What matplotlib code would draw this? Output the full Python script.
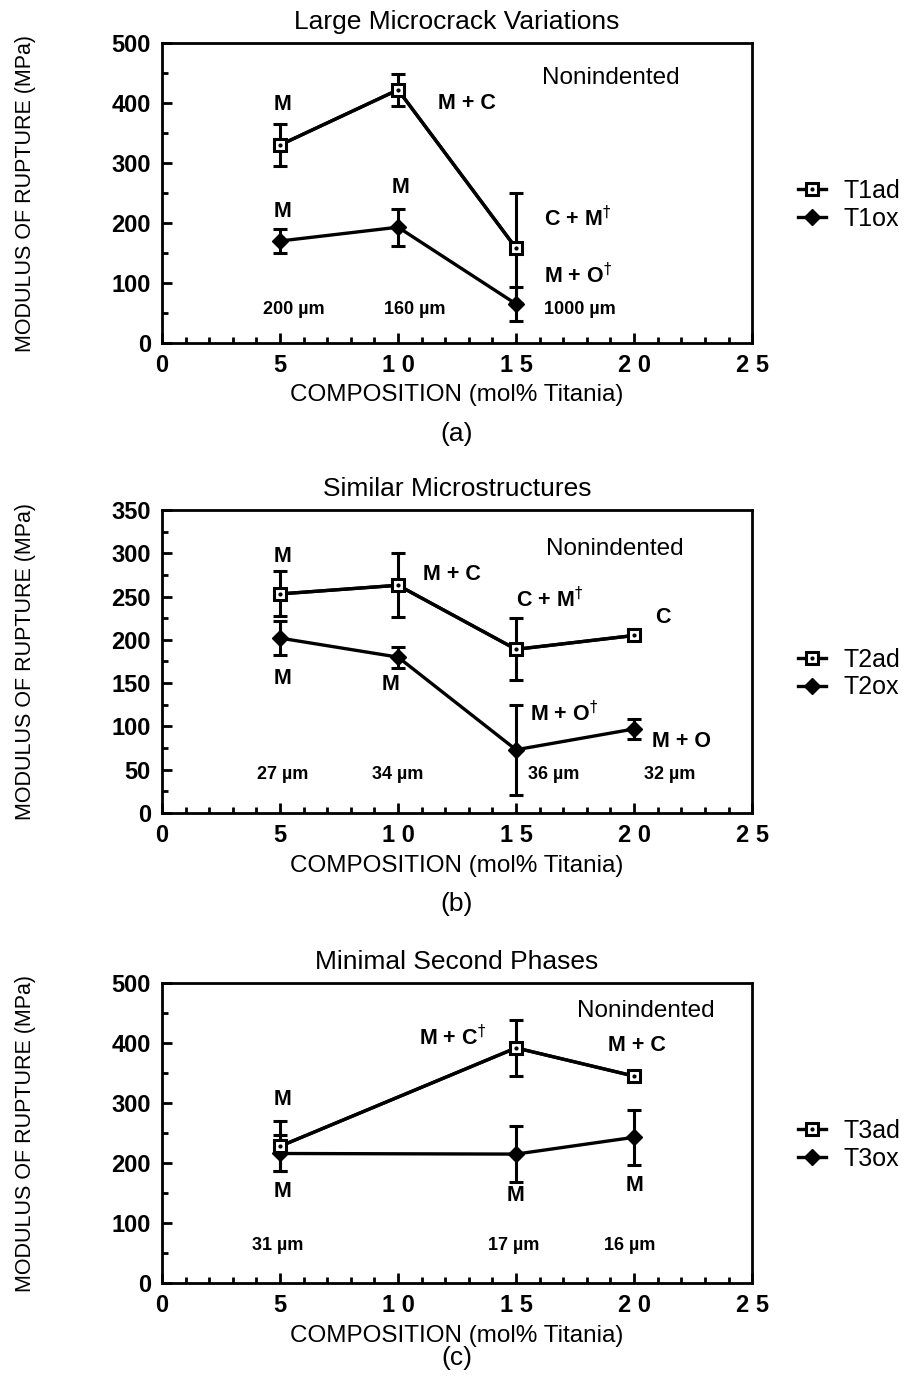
import numpy as np
import matplotlib
matplotlib.use("Agg")
import matplotlib.pyplot as plt
from matplotlib.ticker import MultipleLocator, FixedLocator, FixedFormatter
from matplotlib.legend_handler import HandlerTuple

plt.rcParams['font.family'] = ['Liberation Sans', 'DejaVu Sans']
plt.rcParams['mathtext.fontset'] = 'dejavusans'

# ---- data ----
# (a) Large microcrack variations
comp_a = [5, 10, 15]
t1ad = [330, 422, 158]
t1ad_err = [35, 27, 92]
t1ox = [170, 193, 65]
t1ox_err = [20, 31, 28]

# (b) Similar microstructures
comp_b = [5, 10, 15, 20]
t2ad = [253, 263, 189, 205]
t2ad_err = [26, 37, 36, 3]
t2ox = [202, 180, 73, 97]
t2ox_err = [20, 12, 52, 11]

# (c) Minimal second phases
comp_c = [5, 15, 20]
t3ad = [228, 392, 345]
t3ad_err = [42, 46, 4]
t3ox = [216, 215, 243]
t3ox_err = [30, 46, 46]

xtick_vals = [0, 5, 10, 15, 20, 25]
xtick_labels = ["0", "5", "1 0", "1 5", "2 0", "2 5"]

titles = ["Large Microcrack Variations", "Similar Microstructures", "Minimal Second Phases"]
panel_tags = ["(a)", "(b)", "(c)"]

# phase labels centred on (x, y)
notes_a = [(5.1, 397, "M"), (12.9, 400, "M + C"), (10.1, 260, "M"), (5.1, 219, "M")]
# phase labels with a dagger, left-aligned at (x, y)
dag_a = [(16.2, 208, "C + M"), (16.2, 113, "M + O")]
grains_a = [(5.6, 55, "200 \u00b5m"), (10.7, 55, "160 \u00b5m"), (17.7, 55, "1000 \u00b5m")]
nonind_a = (19.0, 441)

notes_b = [(5.1, 296, "M"), (12.3, 276, "M + C"), (21.2, 226, "C"),
           (5.1, 155, "M"), (9.7, 148, "M"), (22.0, 82, "M + O")]
dag_b = [(15.0, 246, "C + M"), (15.6, 115, "M + O")]
grains_b = [(5.1, 44, "27 \u00b5m"), (10.0, 44, "34 \u00b5m"), (16.6, 44, "36 \u00b5m"),
            (21.5, 44, "32 \u00b5m")]
nonind_b = (19.2, 305)

notes_c = [(20.1, 396, "M + C"), (5.1, 306, "M"), (5.1, 152, "M"),
           (15.0, 146, "M"), (20.0, 162, "M")]
dag_c = [(10.9, 409, "M + C")]
grains_c = [(4.9, 63, "31 \u00b5m"), (14.9, 63, "17 \u00b5m"), (19.8, 63, "16 \u00b5m")]
nonind_c = (20.5, 454)

fig = plt.figure(figsize=(9.15, 13.88), dpi=100)

boxes = [[0.177, 0.7529, 0.645, 0.2161],
         [0.177, 0.4143, 0.645, 0.2183],
         [0.177, 0.0756, 0.645, 0.2161]]
tag_y = [-0.305, -0.30, -0.25]

panels = [
    (comp_a, t1ad, t1ad_err, t1ox, t1ox_err, "T1ad", "T1ox", 500, 100, 50,
     notes_a, dag_a, grains_a, nonind_a),
    (comp_b, t2ad, t2ad_err, t2ox, t2ox_err, "T2ad", "T2ox", 350, 50, 25,
     notes_b, dag_b, grains_b, nonind_b),
    (comp_c, t3ad, t3ad_err, t3ox, t3ox_err, "T3ad", "T3ox", 500, 100, 50,
     notes_c, dag_c, grains_c, nonind_c),
]

for i, (x, ad, ad_e, ox, ox_e, lab_ad, lab_ox, ymax, ymaj, ymin,
        notes, dags, grains, nonind) in enumerate(panels):
    ax = fig.add_axes(boxes[i])

    ax.errorbar(x, ox, yerr=ox_e, color="black", lw=2.4, marker="D", ms=8,
                mfc="black", mec="black", capsize=5, capthick=2.2, elinewidth=2.2)
    ax.errorbar(x, ad, yerr=ad_e, color="black", lw=2.4, marker="None",
                capsize=5, capthick=2.2, elinewidth=2.2)
    sq, = ax.plot(x, ad, color="black", lw=2.4, marker="s", ms=9, mfc="white",
                  mec="black", mew=2.2, zorder=4)
    dot, = ax.plot(x, ad, ls="None", marker="o", ms=2, color="black", zorder=5)
    dia, = ax.plot([], [], color="black", lw=2.4, marker="D", ms=8)

    ax.set_xlim(0, 25)
    ax.set_ylim(0, ymax)
    ax.xaxis.set_major_locator(FixedLocator(xtick_vals))
    ax.xaxis.set_major_formatter(FixedFormatter(xtick_labels))
    ax.xaxis.set_minor_locator(MultipleLocator(1))
    ax.yaxis.set_major_locator(MultipleLocator(ymaj))
    ax.yaxis.set_minor_locator(MultipleLocator(ymin))
    ax.tick_params(which="both", direction="in", width=2, labelsize=17, pad=8)
    ax.tick_params(which="major", length=7)
    ax.tick_params(which="minor", length=4)
    for lbl in ax.get_xticklabels() + ax.get_yticklabels():
        lbl.set_fontweight("bold")
    for s in ax.spines.values():
        s.set_linewidth(2)

    ax.set_title(titles[i], fontsize=19, pad=10)
    ax.set_xlabel("COMPOSITION (mol% Titania)", fontsize=17.5, va="center")
    ax.xaxis.set_label_coords(0.5, -0.175)
    ax.set_ylabel("MODULUS OF RUPTURE (MPa)", fontsize=15.5, va="center")
    ax.yaxis.set_label_coords(-0.232, 0.5)
    ax.text(0.5, tag_y[i], panel_tags[i], transform=ax.transAxes, ha="center",
            va="center", fontsize=19)

    ax.text(nonind[0], nonind[1], "Nonindented", ha="center", va="center", fontsize=17.5)

    for tx, ty, t in notes:
        ax.text(tx, ty, t, ha="center", va="center", fontsize=15.5, fontweight="bold")
    for tx, ty, t in dags:
        ax.text(tx, ty, t + r"$^{\dagger}$", ha="left", va="center", fontsize=15.5,
                fontweight="bold")
    for tx, ty, t in grains:
        ax.text(tx, ty, t, ha="center", va="center", fontsize=13, fontweight="bold")

    ax.legend([(sq, dot), dia], [lab_ad, lab_ox], loc="center left",
              bbox_to_anchor=(1.04, 0.46), frameon=False, fontsize=18,
              handlelength=1.1, handletextpad=0.7, labelspacing=0.15,
              handler_map={tuple: HandlerTuple(ndivide=1)})

fig.savefig("out.png", dpi=100)
